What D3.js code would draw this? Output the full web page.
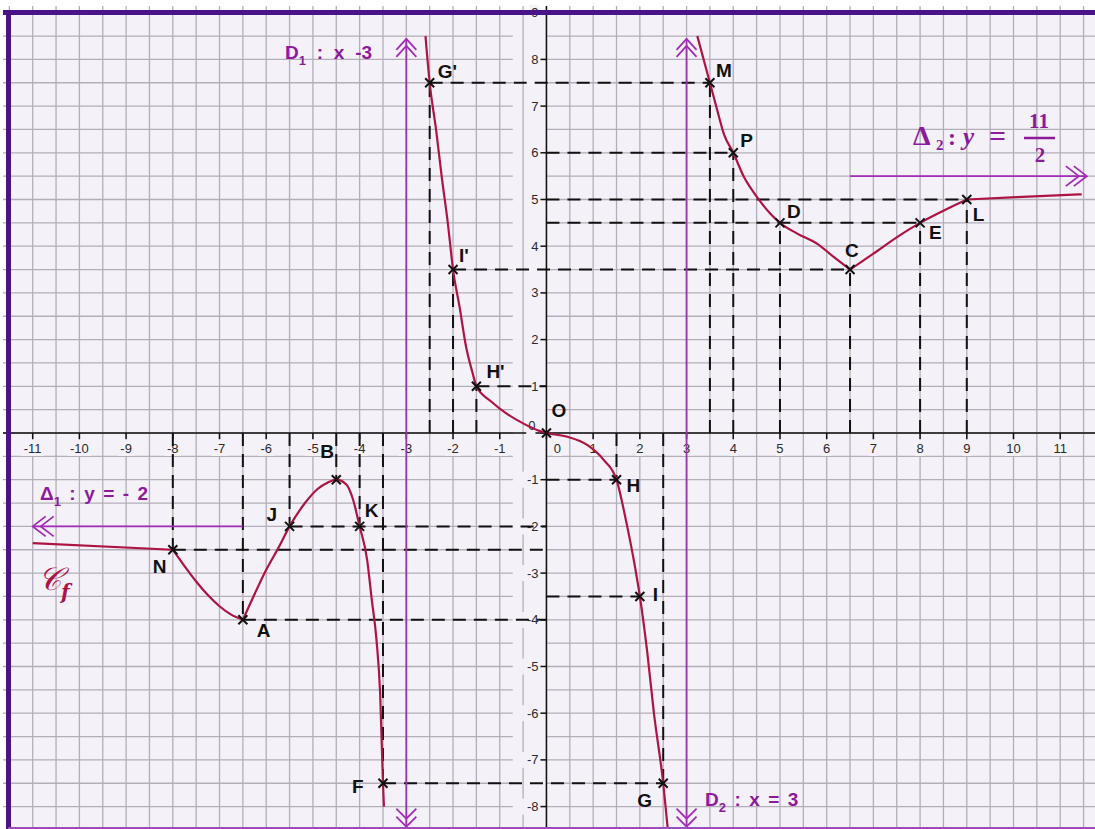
<!DOCTYPE html>
<html><head><meta charset="utf-8">
<script src="https://cdn.jsdelivr.net/npm/d3@7"></script>
<style>body{margin:0;background:#fff}svg{display:block}</style>
</head><body>
<svg id="chart" width="1095" height="829"></svg>
<script>
// ---------- DATA ----------
const xTickValues = [-11,-10,-9,-8,-7,-6,-5,-4,-3,-2,-1,0,1,2,3,4,5,6,7,8,9,10,11];
const yTickValues = [-8,-7,-6,-5,-4,-3,-2,-1,0,1,2,3,4,5,6,7,8,9];

const pointNames = ["N","A","J","B","K","F","G'","I'","H'","O","H","I","G","M","P","D","C","E","L"];
const pointX     = [-8,-6.5,-5.5,-4.5,-4,-3.5,-2.5,-2,-1.5,0,1.5,2,2.5,3.5,4,5,6.5,8,9];
const pointY     = [-2.5,-4,-2,-1,-2,-7.5,7.5,3.5,1,0,-1,-3.5,-7.5,7.5,6,4.5,3.5,4.5,5];

// dashed projections onto the x-axis (from point to y = 0)
const guideVX = [-8,-6.5,-5.5,-4.5,-4,-3.5,-2.5,-2,-1.5,1.5,2.5,3.5,4,5,6.5,8,9];
const guideVY = [-2.5,-4,-2,-1,-2,-7.5,7.5,3.5,1,-1,-7.5,7.5,6,4.5,3.5,4.5,5];
// dashed horizontal projections
const guideHY  = [-2.5,-4,-2,-7.5,7.5,3.5,1,-1,-3.5,6,5,4.5];
const guideHX1 = [-8,-6.5,-5.5,-3.5,-2.5,-2,-1.5,0,0,0,0,0];
const guideHX2 = [0,0,0,2.5,3.5,6.5,0,1.5,2,4,9,8];

// asymptotes
const verticalAsymptotes = [-3, 3];
const verticalAsymptoteSpan = [-8.43, 8.44];
const delta1 = {y: -2, from: -6.5, to: -11.0};
const delta2 = {y: 5.5, from: 6.5, to: 11.57};

// curve C_f, split at angular points
const curveTail   = [[-11,-2.36],[-8,-2.5]];
const curveNA     = [[-8,-2.5],[-7.75,-2.85],[-7.5,-3.18],[-7.25,-3.47],[-7,-3.71],[-6.75,-3.89],[-6.5,-4]];
const curveAF     = [[-6.5,-4],[-6.24,-3.43],[-6,-2.93],[-5.74,-2.46],[-5.5,-2],[-5.17,-1.5],[-4.9,-1.2],[-4.68,-1.06],[-4.5,-1],[-4.28,-1.11],[-4.14,-1.43],[-4,-2],[-3.84,-2.71],[-3.74,-3.57],[-3.64,-4.42],[-3.56,-5.6],[-3.5,-7.5],[-3.48,-8]];
const curveMiddle = [[-2.59,8.5],[-2.5,7.5],[-2.36,6.47],[-2.25,5.55],[-2.11,4.48],[-2,3.5],[-1.86,2.7],[-1.72,1.84],[-1.58,1.28],[-1.5,1],[-1.19,0.68],[-0.83,0.4],[-0.47,0.19],[-0.19,0.06],[0,0],[0.45,-0.08],[0.88,-0.26],[1.23,-0.58],[1.5,-1],[1.7,-1.86],[1.88,-2.78],[2,-3.5],[2.16,-4.71],[2.3,-5.99],[2.5,-7.5],[2.6,-8.5]];
const curveMC     = [[3.23,8.5],[3.5,7.5],[3.66,6.9],[3.8,6.4],[4,6],[4.23,5.48],[4.51,5.05],[4.8,4.69],[5,4.5],[5.37,4.27],[5.8,4.05],[6.15,3.77],[6.5,3.5]];
const curveCL     = [[6.5,3.5],[7,3.84],[7.5,4.19],[8,4.5],[8.5,4.76],[9,5]];
const curveRight  = [[9,5],[10.07,5.05],[11.46,5.11]];
const curveSegments = [curveTail, curveNA, curveAF, curveMiddle, curveMC, curveCL, curveRight];

// ---------- LAYOUT / STYLE ----------
const W = 1095, H = 829;
const BG = "#f4f1f9", GRID = "#b3aeb9", CURVE = "#ae1443", ASYM = "#a42db8", ATXT = "#8c1a9a", FRAME = "#4b1389";
const svg = d3.select("#chart");
const x = d3.scaleLinear().domain([-11.70, 11.745]).range([0, W]);
const y = d3.scaleLinear().domain([9.272, -8.480]).range([0, H]);
const X0 = x(0), Y0 = y(0);

svg.append("rect").attr("width", W).attr("height", H).attr("fill", "#fff");
svg.append("rect").attr("x", 8).attr("y", 12).attr("width", W - 8).attr("height", H - 12).attr("fill", BG);

// grid
const gridG = svg.append("g").attr("stroke", GRID).attr("stroke-width", 1.3);
d3.range(-11.5, 11.75, 0.5).forEach(v => {
  gridG.append("line").attr("x1", x(v)).attr("x2", x(v)).attr("y1", 6).attr("y2", H);
});
d3.range(-8, 9.25, 0.5).forEach(v => {
  gridG.append("line").attr("x1", 3).attr("x2", x(-0.72)).attr("y1", y(v)).attr("y2", y(v));
  gridG.append("line").attr("x1", X0).attr("x2", W).attr("y1", y(v)).attr("y2", y(v));
});

// axes
const axG = svg.append("g").attr("stroke", "#111").attr("stroke-width", 1.5);
axG.append("line").attr("x1", 3).attr("x2", W).attr("y1", Y0).attr("y2", Y0);
axG.append("line").attr("x1", X0).attr("x2", X0).attr("y1", 6).attr("y2", H);
xTickValues.forEach(t => axG.append("line").attr("x1", x(t)).attr("x2", x(t)).attr("y1", Y0).attr("y2", Y0 + 6));
yTickValues.forEach(t => axG.append("line").attr("x1", X0 - 6).attr("x2", X0).attr("y1", y(t)).attr("y2", y(t)));

// tick labels with background
const tickFont = "13px 'Liberation Sans', Arial, sans-serif";
const lblG = svg.append("g").style("font", tickFont).attr("fill", "#2a2a2a");
xTickValues.forEach(t => {
  const cx = t === 0 ? X0 + 11 : x(t);
  const txt = String(t);
  const tw = txt.length * 7.2;
  lblG.append("rect").attr("x", cx - tw / 2 - 1).attr("y", Y0 + 7).attr("width", tw + 2).attr("height", 16).attr("fill", BG);
  lblG.append("text").attr("x", cx).attr("y", Y0 + 20).attr("text-anchor", "middle").text(txt);
});
yTickValues.forEach(t => {
  const cy = t === 0 ? y(t) - 7 : y(t);
  const txt = String(t);
  const tw = txt.length * 7.2;
  const rx = t === 0 ? X0 - 11 : X0 - 8;
  lblG.append("rect").attr("x", rx - 1 - tw - 1).attr("y", cy - 8).attr("width", tw + 2).attr("height", 16).attr("fill", BG);
  lblG.append("text").attr("x", rx).attr("y", cy + 4.5).attr("text-anchor", "end").text(txt);
});

// dashed guides
const dashG = svg.append("g").attr("stroke", "#111").attr("stroke-width", 2).attr("stroke-dasharray", "13,8");
guideVX.forEach((gx, i) => dashG.append("line").attr("x1", x(gx)).attr("x2", x(gx)).attr("y1", Y0).attr("y2", y(guideVY[i])));
guideHY.forEach((gy, i) => dashG.append("line").attr("x1", x(guideHX1[i])).attr("x2", x(guideHX2[i])).attr("y1", y(gy)).attr("y2", y(gy)));

// asymptotes
const asG = svg.append("g").attr("stroke", ASYM).attr("stroke-width", 1.8).attr("fill", "none");
function chevron(tx, ty, dx, dy, vertical) {
  if (vertical) asG.append("path").attr("d", `M${tx - dy},${ty + dx} L${tx},${ty} L${tx + dy},${ty + dx}`);
  else asG.append("path").attr("d", `M${tx + dx},${ty - dy} L${tx},${ty} L${tx + dx},${ty + dy}`);
}
verticalAsymptotes.forEach(a => {
  const px = x(a), top = y(verticalAsymptoteSpan[1]), bot = y(verticalAsymptoteSpan[0]);
  asG.append("line").attr("x1", px).attr("x2", px).attr("y1", top).attr("y2", bot);
  chevron(px, top, 11, 10, true); chevron(px, top + 7, 11, 10, true);
  chevron(px, bot, -10, 10, true); chevron(px, bot - 8, -10, 10, true);
});
[delta1, delta2].forEach(d => {
  const py = y(d.y), p1 = x(d.from), p2 = x(d.to);
  asG.append("line").attr("x1", p1).attr("x2", p2).attr("y1", py).attr("y2", py);
  const s = p2 < p1 ? 1 : -1;
  chevron(p2, py, 13 * s, 10, false); chevron(p2 + 8 * s, py, 13 * s, 10, false);
});

// curve
const line = d3.line().x(d => x(d[0])).y(d => y(d[1])).curve(d3.curveMonotoneX);
svg.append("g").selectAll("path").data(curveSegments).join("path")
  .attr("d", line).attr("fill", "none").attr("stroke", CURVE).attr("stroke-width", 2.2).attr("stroke-linejoin", "round");

// point markers
const crossG = svg.append("g").attr("stroke", "#111").attr("stroke-width", 2);
pointX.forEach((px, i) => {
  const cx = x(px), cy = y(pointY[i]), r = 4.5;
  crossG.append("path").attr("d", `M${cx - r},${cy - r}L${cx + r},${cy + r}M${cx - r},${cy + r}L${cx + r},${cy - r}`);
});

// point labels
const labelOffset = {"N":[-20,23],"A":[14,17],"J":[-23,-5],"B":[-16,-22],"K":[5,-9],"F":[-31,10],"G'":[8,-5],"I'":[6,-8],"H'":[10,-8],"O":[5,-16],"H":[10,12],"I":[13,5],"G":[-26,24],"M":[6,-6],"P":[7,-6],"D":[7,-5],"C":[-5,-13],"E":[9,16],"L":[6,22]};
const pl = svg.append("g").style("font", "bold 19px 'Liberation Sans', Arial, sans-serif").attr("fill", "#111");
pointNames.forEach((n, i) => {
  const o = labelOffset[n];
  pl.append("text").attr("x", x(pointX[i]) + o[0]).attr("y", y(pointY[i]) + o[1]).text(n);
});

// annotations
const annFont = "bold 19px 'Liberation Sans', Arial, sans-serif";
function subLabel(tx, ty, main, sub, rest, ws) {
  const t = svg.append("text").attr("x", tx).attr("y", ty).style("font", annFont)
    .style("word-spacing", ws + "px").attr("fill", ATXT);
  t.append("tspan").text(main);
  t.append("tspan").attr("dy", 6).style("font-size", "13px").text(sub);
  t.append("tspan").attr("dy", -6).text(rest);
}
subLabel(285, 59, "D", "1", " : x -3", 5.5);
subLabel(705, 806, "D", "2", " : x = 3", 3.2);
subLabel(40, 500, "Δ", "1", " : y = - 2", 3.2);

// Delta2 : y = 11/2 (serif, math style)
const sf = "'Liberation Serif','DejaVu Serif',serif";
const d2 = svg.append("g").attr("fill", ATXT).style("font-family", sf).style("font-weight", "bold");
d2.append("text").attr("x", 913).attr("y", 145).style("font-size", "28px").text("Δ");
d2.append("text").attr("x", 936).attr("y", 150).style("font-size", "15px").text("2");
d2.append("text").attr("x", 948).attr("y", 145).style("font-size", "24px").text(":");
d2.append("text").attr("x", 963).attr("y", 145).style("font-size", "25px").style("font-style", "italic").text("y");
d2.append("text").attr("x", 989).attr("y", 146).style("font-size", "30px").text("=");
d2.append("text").attr("x", 1039).attr("y", 128).attr("text-anchor", "middle").style("font-size", "21px").text("11");
d2.append("line").attr("x1", 1024).attr("x2", 1055).attr("y1", 138).attr("y2", 138).attr("stroke", ATXT).attr("stroke-width", 2.5);
d2.append("text").attr("x", 1040).attr("y", 162).attr("text-anchor", "middle").style("font-size", "21px").text("2");

// C_f
const cf = svg.append("text").attr("x", 38).attr("y", 590).attr("fill", CURVE).style("font-family", "'DejaVu Serif',serif");
cf.append("tspan").style("font-size", "32px").style("font-style", "italic").text("𝒞");
cf.append("tspan").attr("dy", 9).style("font-size", "20px").style("font-style", "italic").style("font-weight", "bold").text("f");

// frame
svg.append("line").attr("x1", 3).attr("x2", W).attr("y1", 12.5).attr("y2", 12.5).attr("stroke", FRAME).attr("stroke-width", 5);
svg.append("line").attr("x1", 8.5).attr("x2", 8.5).attr("y1", 10).attr("y2", H).attr("stroke", FRAME).attr("stroke-width", 5);
svg.append("line").attr("x1", 8).attr("x2", W).attr("y1", 828).attr("y2", 828).attr("stroke", "#9d4cc0").attr("stroke-width", 2);
</script>
</body></html>
